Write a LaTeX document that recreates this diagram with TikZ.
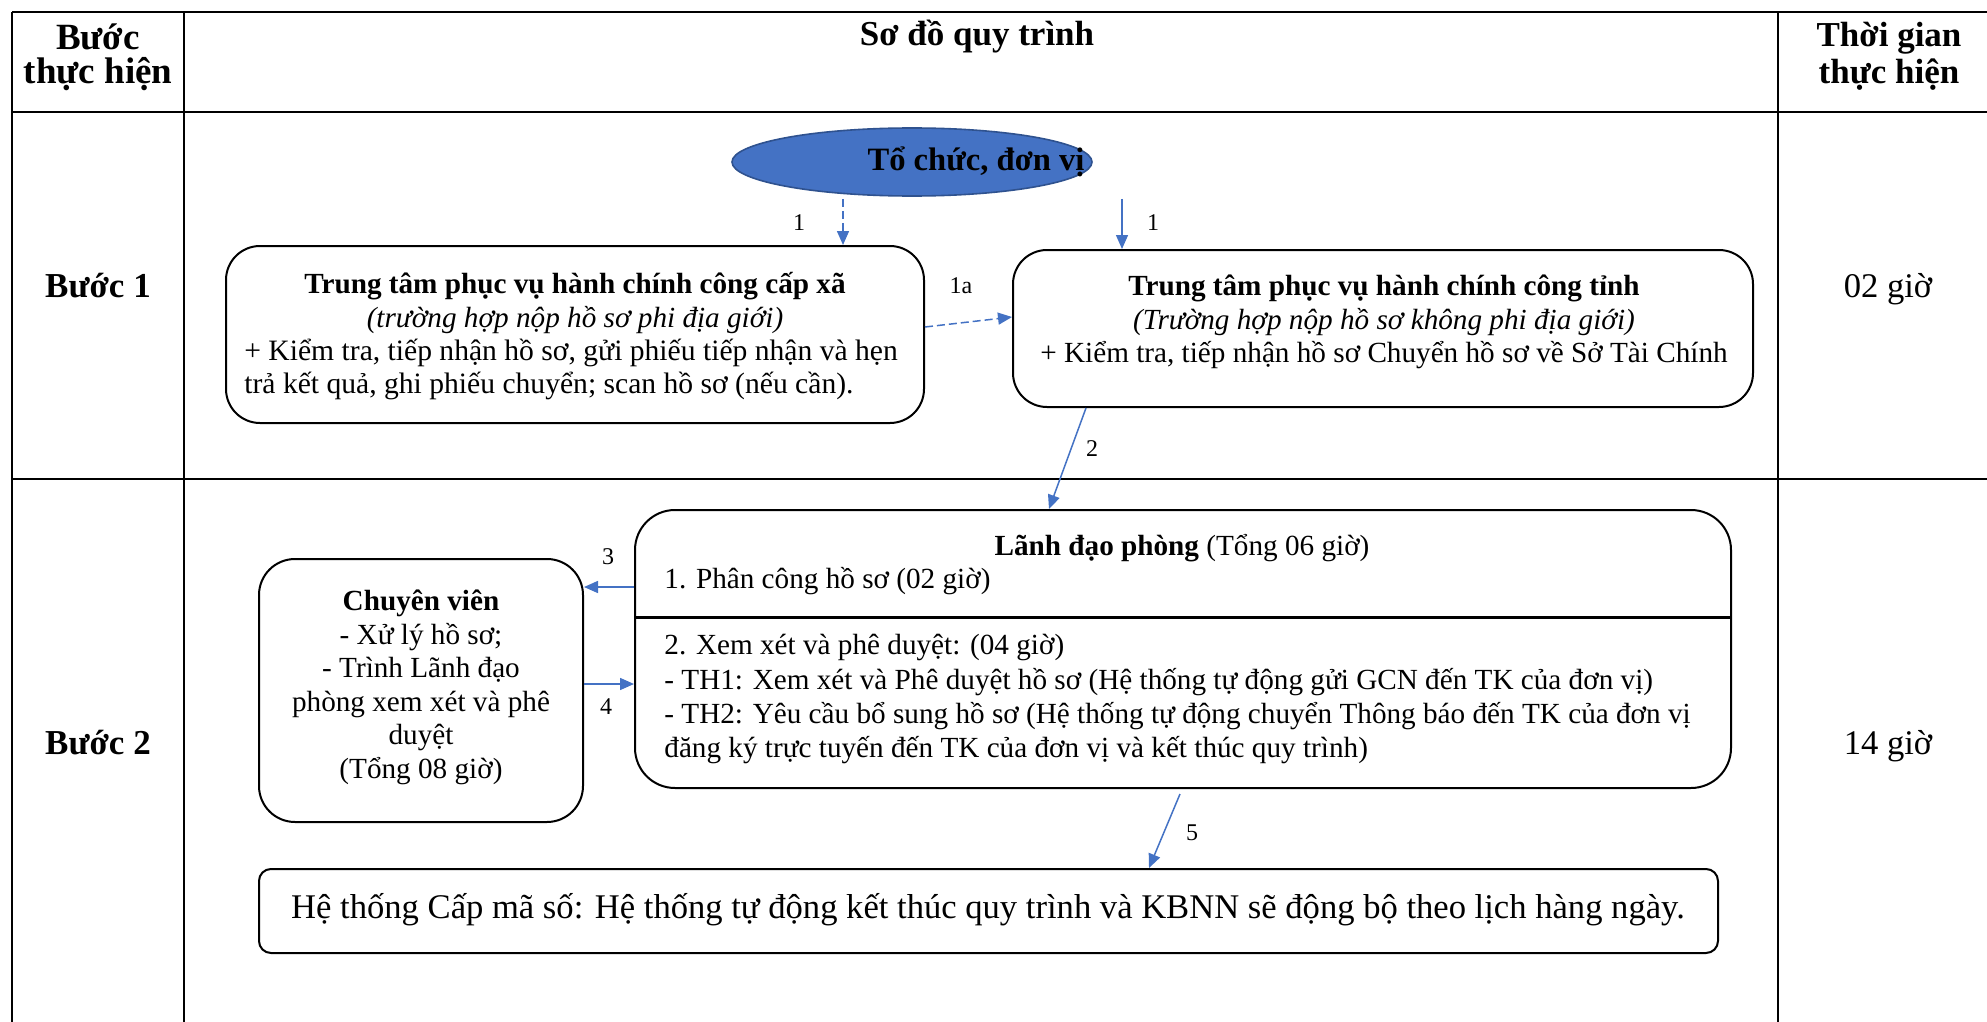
\documentclass[tikz,border=0pt]{standalone}
\usepackage{fontspec}
\setmainfont{Liberation Serif}
\usetikzlibrary{arrows.meta,shapes.geometric}
\definecolor{arrowblue}{HTML}{4472C4}
\definecolor{ellborder}{HTML}{2F528F}
\begin{document}
\begin{tikzpicture}[x=0.5pt,y=-0.5pt,
  every node/.style={inner sep=0pt},
  ln/.style={anchor=base},
  lnw/.style={anchor=base west},
  body/.style={font=\fontsize{14.6}{15}\selectfont},
  bodyb/.style={font=\fontsize{14.6}{15}\selectfont\bfseries},
  bodyi/.style={font=\fontsize{14.6}{15}\selectfont\itshape},
  hdr/.style={font=\fontsize{17.5}{20}\selectfont\bfseries},
  big/.style={font=\fontsize{17.3}{20}\selectfont},
  tbl/.style={line width=1.2pt},
  rbox/.style={draw, line width=1pt, rectangle},
  conn/.style={draw=arrowblue, line width=0.75pt, -{Triangle[length=7pt,width=6pt]}},
  dconn/.style={conn, dash pattern=on 4pt off 2pt},
  lab/.style={font=\fontsize{12}{12}\selectfont}
]
\fill[white] (0,0) rectangle (1987,1022);
\useasboundingbox (0,0) rectangle (1987,1022);
% table grid
\draw[tbl] (12,12) -- (1987,12);
\draw[tbl] (12,112) -- (1987,112);
\draw[tbl] (12,479) -- (1987,479);
\draw[tbl] (12,12) -- (12,1022);
\draw[tbl] (184,12) -- (184,1022);
\draw[tbl] (1778,12) -- (1778,1022);
% headers
\node[ln,font=\fontsize{18.5}{20}\selectfont\bfseries] (h1a) at (98,50) {Bước};
\node[ln,font=\fontsize{18.5}{20}\selectfont\bfseries] (h1b) at (98,84) {thực hiện};
\node[ln,hdr] (h2) at (977,46) {Sơ đồ quy trình};
\node[ln,hdr] (h3a) at (1889,47) {Thời gian};
\node[ln,hdr] (h3b) at (1889,84) {thực hiện};
% row labels
\node[ln,hdr] (r1) at (98,297) {Bước 1};
\node[ln,hdr] (r2) at (98,754) {Bước 2};
\node[ln,big] (t1) at (1888,297) {02 giờ};
\node[ln,big] (t2) at (1888,754) {14 giờ};
% ellipse
\node[ellipse, draw=ellborder, fill=arrowblue, line width=0.8pt, minimum width=180pt, minimum height=34pt] (E) at (912,162) {};
\node[ln, font=\fontsize{16.3}{18}\selectfont\bfseries] (Et) at (976,170) {Tổ chức, đơn vị};
% boxes
\node[rbox, rounded corners=17pt, minimum width=349pt, minimum height=88.5pt] (A) at (575,334.5) {};
\node[rbox, rounded corners=17pt, minimum width=370pt, minimum height=78.5pt] (B) at (1383,328.5) {};
\node[rbox, rounded corners=20pt, minimum width=548pt, minimum height=139pt] (L) at (1183,649) {};
\node[rbox, rounded corners=18pt, minimum width=162pt, minimum height=131.5pt] (C) at (421,690.5) {};
\node[rbox, rounded corners=6pt, minimum width=729.5pt, minimum height=42pt] (H) at (988.5,911) {};
\coordinate (div) at (0,617);
\draw[line width=1.5pt] (L.west |- div) -- (L.east |- div);
% box A text
\node[ln,bodyb] (A1) at (575,293) {Trung tâm phục vụ hành chính công cấp xã};
\node[ln,bodyi] (A2) at (575,327) {(trường hợp nộp hồ sơ phi địa giới)};
\node[lnw,font=\fontsize{14.8}{15}\selectfont] (A3) at (244,360) {+ Kiểm tra, tiếp nhận hồ sơ, gửi phiếu tiếp nhận và hẹn};
\node[lnw,font=\fontsize{14.8}{15}\selectfont] (A4) at (244,393) {trả kết quả, ghi phiếu chuyển; scan hồ sơ (nếu cần).};
% box B text
\node[ln,bodyb] (B1) at (1384,295) {Trung tâm phục vụ hành chính công tỉnh};
\node[ln,bodyi] (B2) at (1384,329) {(Trường hợp nộp hồ sơ không phi địa giới)};
\node[ln,body] (B3) at (1384,362) {+ Kiểm tra, tiếp nhận hồ sơ Chuyển hồ sơ về Sở Tài Chính};
% box L text
\node[ln,body] (L1) at (1182,555) {\textbf{Lãnh đạo phòng} (Tổng 06 giờ)};
\node[lnw,body] (L2) at (664,588) {1. Phân công hồ sơ (02 giờ)};
\node[lnw,body] (L3) at (664,654) {2. Xem xét và phê duyệt: (04 giờ)};
\node[lnw,body] (L4) at (664,689) {- TH1: Xem xét và Phê duyệt hồ sơ (Hệ thống tự động gửi GCN đến TK của đơn vị)};
\node[lnw,body] (L5) at (664,723) {- TH2: Yêu cầu bổ sung hồ sơ (Hệ thống tự động chuyển Thông báo đến TK của đơn vị};
\node[lnw,body] (L6) at (664,757) {đăng ký trực tuyến đến TK của đơn vị và kết thúc quy trình)};
% box C text
\node[ln,bodyb] (C1) at (421,610) {Chuyên viên};
\node[ln,body] (C2) at (421,644) {- Xử lý hồ sơ;};
\node[ln,body] (C3) at (421,677) {- Trình Lãnh đạo};
\node[ln,body] (C4) at (421,711) {phòng xem xét và phê};
\node[ln,body] (C5) at (421,744) {duyệt};
\node[ln,body] (C6) at (421,778) {(Tổng 08 giờ)};
% bottom box text
\node[ln,big] (H1) at (988,918) {Hệ thống Cấp mã số: Hệ thống tự động kết thúc quy trình và KBNN sẽ động bộ theo lịch hàng ngày.};
% connectors
\coordinate (x1) at (843,0);
\coordinate (x1b) at (1122,0);
\draw[dconn] ([yshift=-1pt]E.south -| x1) -- (A.north -| x1);
\draw[conn] ([yshift=-1pt]E.south -| x1b) -- (B.north -| x1b);
\draw[dconn] ([yshift=3.75pt]A.east) -- ([yshift=5.75pt]B.west);
\draw[conn] ([xshift=-148.5pt]B.south) -- ([xshift=-67pt]L.north);
\draw[conn] ([yshift=31pt]L.west) -- ([yshift=51.75pt]C.east);
\draw[conn] ([yshift=3.25pt]C.east) -- ([yshift=-17.5pt]L.west);
\draw[conn] ([xshift=-1.5pt,yshift=-2.5pt]L.south) -- ([xshift=80.25pt]H.north);
% labels
\node[lab] (l1) at (799,223) {1};
\node[lab] (l1b) at (1153,223) {1};
\node[lab] (l1a) at (961,286) {1a};
\node[lab] (l2) at (1092,449) {2};
\node[lab] (l3) at (608,557) {3};
\node[lab] (l4) at (606,707) {4};
\node[lab] (l5) at (1192,833) {5};
\end{tikzpicture}
\end{document}
